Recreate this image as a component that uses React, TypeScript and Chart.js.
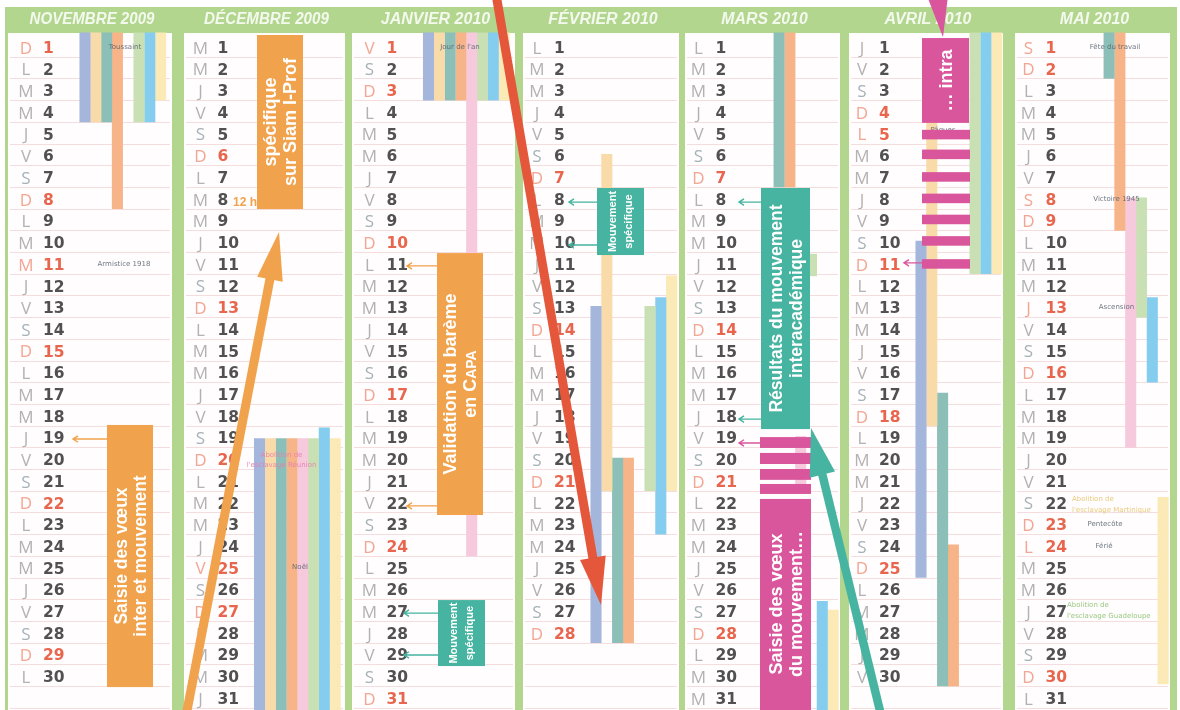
import React, { useEffect, useRef } from 'react';
import { Chart, registerables } from 'chart.js';

Chart.register(...registerables);

// ---------------- DATA ----------------
const MONTH_TITLES = ['NOVEMBRE 2009', 'DÉCEMBRE 2009', 'JANVIER 2010', 'FÉVRIER 2010', 'MARS 2010', 'AVRIL 2010', 'MAI 2010'];
const MONTH_YEARS = [2009, 2009, 2010, 2010, 2010, 2010, 2010];
const MONTH_JS_INDEX = [10, 11, 0, 1, 2, 3, 4];
const DAYS_IN_MONTH = [30, 31, 31, 28, 31, 30, 31];
const WEEKDAY_LETTERS = ['D', 'L', 'M', 'M', 'J', 'V', 'S'];
const PUBLIC_HOLIDAYS: [number, number][] = [[0, 1], [0, 11], [1, 25], [2, 1], [5, 5], [6, 1], [6, 8], [6, 13], [6, 24]];

// holiday-zone stripes: [monthIndex, fromDay, toDay]
const stripeBlue = [[0, 0.4, 4.5], [1, 19.1, 31.8], [2, 0.4, 3.5], [3, 13, 28.5], [5, 10, 25.5]];
const stripePeach = [[0, 0.4, 4.5], [1, 19.1, 31.8], [2, 0.4, 3.5], [3, 6, 21.5], [5, 3, 18.5]];
const stripeTeal = [[0, 0.4, 4.5], [1, 19.1, 31.8], [2, 0.4, 3.5], [3, 20, 28.5], [4, 0.4, 7.5], [5, 17, 30.5], [6, 0.4, 2.5]];
const stripeOrange = [[0, 0.4, 8.5], [1, 19.1, 31.8], [2, 0.4, 3.5], [3, 20, 28.5], [4, 0.4, 7.5], [5, 24, 30.5], [6, 0.4, 9.5]];
const stripePink = [[1, 19.1, 31.8], [2, 0.4, 24.5], [4, 19, 21.5], [6, 8, 19.5]];
const stripeGreen = [[0, 0.4, 4.5], [1, 19.1, 31.8], [2, 0.4, 3.5], [3, 13, 21.5], [4, 10.6, 11.6], [5, 0.4, 11.5], [6, 8, 13.5]];
const stripeSky = [[0, 0.4, 4.5], [1, 18.6, 31.8], [2, 0.4, 3.5], [3, 12.6, 23.5], [4, 26.6, 31.8], [5, 0.4, 11.5], [6, 12.6, 16.5]];
const stripeYellow = [[0, 0.4, 3.5], [1, 19.1, 31.8], [2, 0.4, 3.5], [3, 11.6, 21.5], [4, 27, 31.8], [5, 0.4, 11.5], [6, 21.8, 30.4]];

const ZONE_SERIES = [
  { label: 'Zone A', values: stripeBlue, color: '#a4b6dc' },
  { label: 'Zone B', values: stripePeach, color: '#f8dba8' },
  { label: 'Zone C', values: stripeTeal, color: '#8cbfb7' },
  { label: 'Corse', values: stripeOrange, color: '#f7b488' },
  { label: 'Réunion', values: stripePink, color: '#f6c9dd' },
  { label: 'Guadeloupe', values: stripeGreen, color: '#c8e0b4' },
  { label: 'Guyane', values: stripeSky, color: '#84cdef' },
  { label: 'Martinique', values: stripeYellow, color: '#fbe9b6' },
];

// ---------------- LAYOUT ----------------
const PITCH = 166.4; // px per month column
const ROW = 21.7; // px per day row
const COL_SHIFT_PX = [-6.6, 1.5, 4.1, 5.2, 0.3, -2.6, -2.5];
const PANEL_HALF_PX = [82, 80.5, 81.5, 78, 77.5, 77, 77.5];
const X_MIN = 0.5 - 96.6 / PITCH;
const X_MAX = X_MIN + 1180 / PITCH;
const Y_MIN = 0.5 - 35 / ROW;
const Y_MAX = Y_MIN + 710 / ROW;
const HEADER_TOP_DAY = -0.79;
const PANEL_TOP_DAY = 0.41;
const TITLE_DAY = -0.21;
const STRIPE_X0 = -5;
const STRIPE_STEP = 10.8;
const LETTER_DX = -64;
const NUMBER_DX = -47;
const TEXT_DY = 3;

const GREEN = '#b3d68f';
const ORANGE = '#f1a24c';
const TEAL = '#46b4a0';
const PINK = '#d9569c';
const RED = '#e4573b';
const NOTE_GREY = 'rgba(85,98,112,0.85)';
const NOTE_PINK = 'rgba(228,130,172,0.9)';
const NOTE_YELLOW = 'rgba(232,200,120,0.95)';
const NOTE_GREEN = 'rgba(150,198,125,0.95)';
const BOX_FONT = '"Liberation Sans", Arial, sans-serif';

const colX = (m: number, px: number) => m + 0.5 + (COL_SHIFT_PX[m] + px) / PITCH;

// ---------------- ANNOTATIONS ----------------
type Part = { t: string; s: number };
const BOXES: { m: number; x: [number, number]; d: [number, number]; color: string; lines: Part[][]; gap: number; textDay?: number }[] = [
  { m: 0, x: [17, 63], d: [18.47, 30.55], color: ORANGE, gap: 19.5, lines: [[{ t: 'Saisie des vœux', s: 17.5 }], [{ t: 'inter et mouvement', s: 17.5 }]] },
  { m: 1, x: [-7.5, 38.5], d: [0.5, 8.52], color: ORANGE, gap: 20, lines: [[{ t: 'spécifique', s: 18 }], [{ t: 'sur Siam I-Prof', s: 18 }]] },
  { m: 2, x: [3.5, 49.5], d: [10.55, 22.62], color: ORANGE, gap: 20, lines: [[{ t: 'Validation du barème', s: 18 }], [{ t: 'en C', s: 18 }, { t: 'APA', s: 14 }]] },
  { m: 2, x: [4.5, 51.5], d: [26.54, 29.58], color: TEAL, gap: 16, lines: [[{ t: 'Mouvement', s: 11 }], [{ t: 'spécifique', s: 11 }]] },
  { m: 3, x: [-4, 43], d: [7.55, 10.64], color: TEAL, gap: 16, lines: [[{ t: 'Mouvement', s: 11 }], [{ t: 'spécifique', s: 11 }]] },
  { m: 4, x: [-1.5, 47.5], d: [7.55, 18.66], color: TEAL, gap: 20, lines: [[{ t: 'Résultats du mouvement', s: 17.5 }], [{ t: 'interacadémique', s: 17.5 }]] },
  { m: 4, x: [-2.5, 48.5], d: [21.88, 32.2], color: PINK, gap: 19.5, textDay: 26.72, lines: [[{ t: 'Saisie des vœux', s: 18 }], [{ t: 'du mouvement…', s: 18 }]] },
  { m: 5, x: [-4, 43], d: [0.64, 4.55], color: PINK, gap: 20, lines: [[{ t: '… intra', s: 18 }]] },
];

const PINK_STRIPES: { m: number; x: [number, number]; d: [number, number] }[] = [
  { m: 4, x: [-2.5, 48.5], d: [19.03, 19.53] },
  { m: 4, x: [-2.5, 48.5], d: [19.76, 20.27] },
  { m: 4, x: [-2.5, 48.5], d: [20.5, 21.0] },
  { m: 4, x: [-2.5, 48.5], d: [21.19, 21.65] },
  { m: 5, x: [-4, 44], d: [4.87, 5.31] },
  { m: 5, x: [-4, 44], d: [5.78, 6.22] },
  { m: 5, x: [-4, 44], d: [6.82, 7.26] },
  { m: 5, x: [-4, 44], d: [7.81, 8.25] },
  { m: 5, x: [-4, 44], d: [8.78, 9.22] },
  { m: 5, x: [-4, 44], d: [9.77, 10.21] },
  { m: 5, x: [-4, 44], d: [10.83, 11.27] },
];

const THIN_ARROWS: { m: number; from: number; to: number; d: number; color: string }[] = [
  { m: 0, from: 17, to: -17, d: 19.12, color: ORANGE },
  { m: 2, from: 3.5, to: -26.5, d: 11.14, color: ORANGE },
  { m: 2, from: 3.5, to: -26.5, d: 22.2, color: ORANGE },
  { m: 2, from: 4.5, to: -29.5, d: 27.14, color: TEAL },
  { m: 2, from: 4.5, to: -29.5, d: 29.07, color: TEAL },
  { m: 3, from: -4, to: -32, d: 8.2, color: TEAL },
  { m: 3, from: -4, to: -32, d: 10.18, color: TEAL },
  { m: 4, from: -1.5, to: -23.5, d: 8.2, color: TEAL },
  { m: 4, from: -1.5, to: -23.5, d: 18.2, color: TEAL },
  { m: 4, from: -2.5, to: -23.5, d: 19.3, color: PINK },
  { m: 5, from: -4, to: -22, d: 11.0, color: PINK },
];

const BIG_ARROWS: { tail: [number, number, number]; tip: [number, number, number]; color: string; lw: number }[] = [
  { tail: [1, -79.4, 32.1], tip: [1, 14.5, 9.58], color: ORANGE, lw: 9 },
  { tail: [2, 61.8, -1.57], tip: [3, 0, 26.77], color: RED, lw: 9 },
  { tail: [5, -43.6, 32.1], tip: [4, 48.5, 18.61], color: TEAL, lw: 8.5 },
];

const NOTES: { m: number; d: number; dx: number; t: string; c: string; align?: CanvasTextAlign }[] = [
  { m: 0, d: 1, dx: 35, t: 'Toussaint', c: NOTE_GREY },
  { m: 0, d: 11, dx: 34, t: 'Armistice 1918', c: NOTE_GREY },
  { m: 1, d: 19.8, dx: 17, t: 'Abolition de', c: NOTE_PINK },
  { m: 1, d: 20.3, dx: 17, t: "l'esclavage Réunion", c: NOTE_PINK },
  { m: 1, d: 25, dx: 35.5, t: 'Noël', c: NOTE_GREY },
  { m: 2, d: 1, dx: 26.5, t: "Jour de l'an", c: NOTE_GREY },
  { m: 5, d: 4.85, dx: 17, t: 'Pâques', c: NOTE_GREY },
  { m: 6, d: 1, dx: 22.5, t: 'Fête du travail', c: NOTE_GREY },
  { m: 6, d: 8, dx: 24, t: 'Victoire 1945', c: NOTE_GREY },
  { m: 6, d: 13, dx: 24, t: 'Ascension', c: NOTE_GREY },
  { m: 6, d: 21.85, dx: -20.5, t: 'Abolition de', c: NOTE_YELLOW, align: 'left' },
  { m: 6, d: 22.35, dx: -20.5, t: "l'esclavage Martinique", c: NOTE_YELLOW, align: 'left' },
  { m: 6, d: 23, dx: 12.5, t: 'Pentecôte', c: NOTE_GREY },
  { m: 6, d: 24, dx: 11.5, t: 'Férié', c: NOTE_GREY },
  { m: 6, d: 26.75, dx: -25.5, t: 'Abolition de', c: NOTE_GREEN, align: 'left' },
  { m: 6, d: 27.25, dx: -25.5, t: "l'esclavage Guadeloupe", c: NOTE_GREEN, align: 'left' },
];

// ---------------- HELPERS ----------------
function pos(chart: any) {
  const xs = chart.scales.x;
  const ys = chart.scales.y;
  return {
    X: (m: number, off: number) => xs.getPixelForValue(colX(m, off)),
    Y: (d: number) => ys.getPixelForValue(d),
  };
}

function drawBigArrow(ctx: CanvasRenderingContext2D, x1: number, y1: number, x2: number, y2: number, color: string, lw: number) {
  const headLen = 48;
  const headHalf = 13;
  const a = Math.atan2(y2 - y1, x2 - x1);
  const bx = x2 - headLen * Math.cos(a);
  const by = y2 - headLen * Math.sin(a);
  ctx.strokeStyle = color;
  ctx.lineWidth = lw;
  ctx.lineCap = 'butt';
  ctx.beginPath();
  ctx.moveTo(x1, y1);
  ctx.lineTo(bx + 2 * Math.cos(a), by + 2 * Math.sin(a));
  ctx.stroke();
  ctx.fillStyle = color;
  ctx.beginPath();
  ctx.moveTo(x2, y2);
  ctx.lineTo(bx + headHalf * Math.sin(a), by - headHalf * Math.cos(a));
  ctx.lineTo(bx - headHalf * Math.sin(a), by + headHalf * Math.cos(a));
  ctx.closePath();
  ctx.fill();
}

function drawThinArrow(ctx: CanvasRenderingContext2D, x1: number, x2: number, y: number, color: string) {
  ctx.strokeStyle = color;
  ctx.lineWidth = 1.4;
  ctx.beginPath();
  ctx.moveTo(x1, y);
  ctx.lineTo(x2, y);
  ctx.moveTo(x2 + 5, y - 3.2);
  ctx.lineTo(x2, y);
  ctx.lineTo(x2 + 5, y + 3.2);
  ctx.stroke();
}

function drawRotatedLines(ctx: CanvasRenderingContext2D, cx: number, cy: number, lines: Part[][], gap: number) {
  ctx.save();
  ctx.translate(cx, cy);
  ctx.rotate(-Math.PI / 2);
  ctx.fillStyle = '#ffffff';
  ctx.textBaseline = 'alphabetic';
  ctx.textAlign = 'left';
  const n = lines.length;
  lines.forEach((parts, i) => {
    const main = Math.max(...parts.map((p) => p.s));
    const ly = (i - (n - 1) / 2) * gap + main * 0.36;
    const widths = parts.map((p) => {
      ctx.font = `bold ${p.s}px ${BOX_FONT}`;
      return ctx.measureText(p.t).width;
    });
    const total = widths.reduce((a, b) => a + b, 0);
    let x = -total / 2;
    parts.forEach((p, j) => {
      ctx.font = `bold ${p.s}px ${BOX_FONT}`;
      ctx.fillText(p.t, x, ly);
      x += widths[j];
    });
  });
  ctx.restore();
}

const isHoliday = (m: number, d: number) => PUBLIC_HOLIDAYS.some(([hm, hd]) => hm === m && hd === d);

// ---------------- PLUGINS ----------------
const backgroundPlugin = {
  id: 'calendarBackground',
  beforeDraw(chart: any) {
    const { ctx, width, height } = chart;
    const { X, Y } = pos(chart);
    ctx.save();
    ctx.fillStyle = '#ffffff';
    ctx.fillRect(0, 0, width, height);
    const gTop = Y(HEADER_TOP_DAY);
    const gL = X(0, -85);
    const gR = X(6, 84.5);
    ctx.fillStyle = GREEN;
    ctx.fillRect(gL, gTop, gR - gL, height - gTop);
    const pTop = Y(PANEL_TOP_DAY);
    for (let m = 0; m < 7; m++) {
      const l = X(m, -PANEL_HALF_PX[m]);
      const r = X(m, PANEL_HALF_PX[m]);
      ctx.fillStyle = '#fffdfd';
      ctx.fillRect(l, pTop, r - l, height - pTop);
      ctx.strokeStyle = 'rgba(236,200,200,0.6)';
      ctx.lineWidth = 1;
      for (let d = 1; d <= 31; d++) {
        const y = Math.round(Y(d + 0.5)) + 0.5;
        ctx.beginPath();
        ctx.moveTo(l + 2, y);
        ctx.lineTo(r - 2, y);
        ctx.stroke();
      }
      const t = MONTH_TITLES[m];
      ctx.font = `italic bold 16px ${BOX_FONT}`;
      const w = ctx.measureText(t).width;
      const sx = Math.min(1, (t.length * 9.6) / w);
      ctx.save();
      ctx.translate(X(m, 2), Y(TITLE_DAY));
      ctx.scale(sx, 1);
      ctx.textAlign = 'center';
      ctx.textBaseline = 'middle';
      ctx.fillStyle = 'rgba(255,255,255,0.85)';
      ctx.fillText(t, 0, 0);
      ctx.restore();
    }
    ctx.restore();
  },
};

const daysPlugin = {
  id: 'calendarDays',
  afterDatasetsDraw(chart: any) {
    const { ctx } = chart;
    const { X, Y } = pos(chart);
    ctx.save();
    ctx.textBaseline = 'middle';
    for (let m = 0; m < 7; m++) {
      for (let d = 1; d <= DAYS_IN_MONTH[m]; d++) {
        const wd = new Date(MONTH_YEARS[m], MONTH_JS_INDEX[m], d).getDay();
        const red = wd === 0 || isHoliday(m, d);
        const y = Y(d) + TEXT_DY;
        ctx.font = '17px "Open Sans", "DejaVu Sans", sans-serif';
        ctx.textAlign = 'center';
        ctx.fillStyle = red ? '#f2a693' : wd === 6 ? '#a5b2b8' : '#b2b2b2';
        ctx.fillText(WEEKDAY_LETTERS[wd], X(m, LETTER_DX), y);
        ctx.font = 'bold 15.5px "DejaVu Sans", sans-serif';
        ctx.textAlign = 'left';
        ctx.fillStyle = red ? '#e8664d' : '#515151';
        ctx.fillText(String(d), X(m, NUMBER_DX), y);
      }
    }
    ctx.font = '7px "DejaVu Sans", sans-serif';
    NOTES.forEach((n) => {
      ctx.fillStyle = n.c;
      ctx.textAlign = n.align || 'center';
      ctx.fillText(n.t, X(n.m, n.dx), Y(n.d) + 1);
    });
    ctx.restore();
  },
};

const annotationPlugin = {
  id: 'calendarAnnotations',
  afterDraw(chart: any) {
    const { ctx } = chart;
    const { X, Y } = pos(chart);
    ctx.save();
    // "12 h"
    ctx.font = `bold 12px ${BOX_FONT}`;
    ctx.fillStyle = ORANGE;
    ctx.textAlign = 'left';
    ctx.textBaseline = 'middle';
    ctx.fillText('12 h', X(1, -31.5), Y(8.24));
    THIN_ARROWS.forEach((a) => drawThinArrow(ctx, X(a.m, a.from), X(a.m, a.to), Y(a.d), a.color));
    PINK_STRIPES.forEach((s) => {
      ctx.fillStyle = PINK;
      const l = X(s.m, s.x[0]);
      const t = Y(s.d[0]);
      ctx.fillRect(l, t, X(s.m, s.x[1]) - l, Y(s.d[1]) - t);
    });
    BOXES.forEach((b) => {
      const l = X(b.m, b.x[0]);
      const r = X(b.m, b.x[1]);
      const t = Y(b.d[0]);
      const bt = Y(b.d[1]);
      ctx.fillStyle = b.color;
      ctx.fillRect(l, t, r - l, bt - t);
      const cy = b.textDay !== undefined ? Y(b.textDay) : (t + bt) / 2;
      drawRotatedLines(ctx, (l + r) / 2, cy, b.lines, b.gap);
    });
    // pink arrow head coming from above (April)
    ctx.fillStyle = PINK;
    ctx.beginPath();
    ctx.moveTo(X(5, 1), Y(-1.3));
    ctx.lineTo(X(5, 22), Y(-1.3));
    ctx.lineTo(X(5, 17), Y(0.59));
    ctx.closePath();
    ctx.fill();
    BIG_ARROWS.forEach((a) =>
      drawBigArrow(ctx, X(a.tail[0], a.tail[1]), Y(a.tail[2]), X(a.tip[0], a.tip[1]), Y(a.tip[2]), a.color, a.lw)
    );
    ctx.restore();
  },
};

// ---------------- COMPONENT ----------------
export default function App() {
  const ref = useRef<HTMLCanvasElement>(null);
  useEffect(() => {
    document.body.style.margin = '0';
    const canvas = ref.current;
    if (!canvas) return;
    const datasets = ZONE_SERIES.map((z, k) => ({
      label: z.label,
      data: z.values.map(([m, a, b]) => ({ x: colX(m, STRIPE_X0 + STRIPE_STEP * k), y: [a, b] })),
      backgroundColor: z.color,
      borderWidth: 0,
      barThickness: 10.4,
      grouped: false,
    }));
    const chart = new Chart(canvas, {
      type: 'bar',
      data: { datasets } as any,
      options: {
        animation: false,
        responsive: false,
        maintainAspectRatio: false,
        devicePixelRatio: 1,
        layout: { padding: 0 },
        plugins: { legend: { display: false }, tooltip: { enabled: false } },
        events: [],
        scales: {
          x: { type: 'linear', min: X_MIN, max: X_MAX, display: false, offset: false },
          y: { type: 'linear', min: Y_MIN, max: Y_MAX, reverse: true, display: false },
        },
      } as any,
      plugins: [backgroundPlugin, daysPlugin, annotationPlugin],
    });
    return () => chart.destroy();
  }, []);
  return <canvas ref={ref} width={1180} height={710} style={{ display: 'block', width: 1180, height: 710 }} />;
}
